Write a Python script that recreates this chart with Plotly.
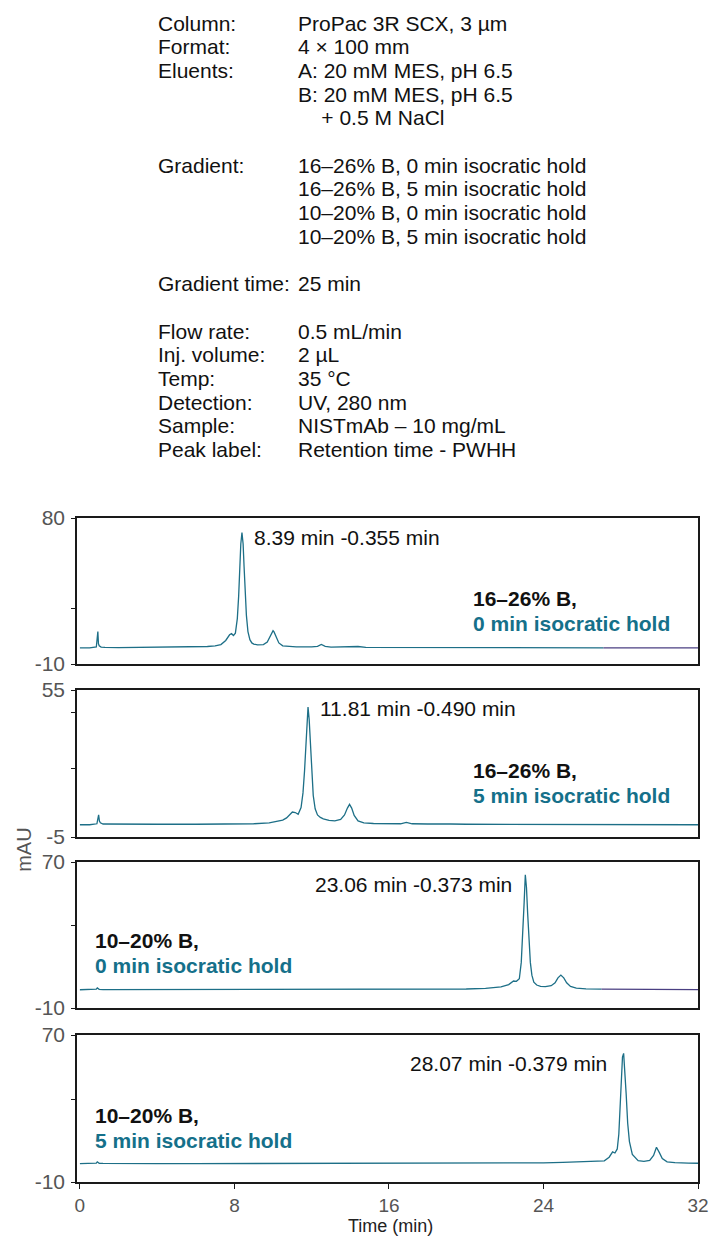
import plotly.graph_objects as go

# ---------------- data ----------------
# Panel 1: 16-26% B, 0 min isocratic hold
t1 = [0.0, 0.5, 0.85, 0.9, 0.93, 0.96, 1.0, 1.1, 1.3, 2.0, 3.0, 4.0, 5.0, 6.0, 6.6, 7.0, 7.3,
      7.55, 7.75, 7.85, 7.95, 8.05, 8.15, 8.22, 8.28, 8.33, 8.39, 8.45, 8.5, 8.56, 8.62, 8.7,
      8.8, 8.9, 9.0, 9.2, 9.5, 9.7, 9.85, 9.95, 10.0, 10.05, 10.15, 10.3, 10.5, 10.8, 11.2,
      12.0, 12.3, 12.5, 12.7, 13.0, 14.0, 14.4, 14.8, 16.0, 18.0, 20.0, 22.0, 24.0, 27.1]
v1 = [0.0, 0.0, 0.5, 6.0, 10.0, 2.5, 1.2, 0.4, 0.2, 0.1, 0.2, 0.1, 0.3, 0.5, 0.8, 1.2, 2.0,
      4.5, 8.0, 8.7, 7.6, 9.0, 18.0, 32.0, 50.0, 64.0, 71.0, 64.0, 50.0, 33.0, 20.0, 10.0,
      5.0, 3.0, 2.3, 1.8, 2.0, 3.5, 7.5, 10.2, 10.5, 9.8, 7.0, 3.0, 1.2, 0.7, 0.5,
      0.5, 0.9, 2.0, 0.9, 0.4, 0.4, 0.8, 0.3, 0.3, 0.3, 0.2, 0.1, 0.0, 0.0]
t1_end = [27.1, 29.0, 32.0]
v1_end = [0.0, -0.1, -0.1]

# Panel 2: 16-26% B, 5 min isocratic hold
t2 = [0.0, 0.5, 0.88, 0.93, 0.97, 1.01, 1.06, 1.2, 2.0, 4.0, 6.0, 8.0, 9.0, 9.8, 10.2, 10.5,
      10.7, 10.85, 11.0, 11.15, 11.3, 11.45, 11.55, 11.63, 11.7, 11.75, 11.81, 11.87, 11.93,
      12.0, 12.08, 12.18, 12.3, 12.45, 12.6, 12.9, 13.2, 13.5, 13.7, 13.85, 13.96, 14.07,
      14.2, 14.4, 14.7, 15.2, 16.0, 16.6, 16.9, 17.2, 18.0, 18.8, 19.0, 19.2, 20.0, 24.0, 28.0, 32.0]
v2 = [0.0, 0.0, 0.4, 2.5, 4.0, 1.5, 0.8, 0.3, 0.2, 0.2, 0.2, 0.3, 0.4, 0.8, 1.3, 1.9,
      2.8, 4.0, 5.2, 5.0, 4.3, 7.0, 13.0, 22.0, 33.0, 42.0, 48.0, 43.0, 33.0,
      21.0, 12.0, 6.5, 4.0, 3.0, 2.4, 1.8, 1.6, 2.2, 4.0, 6.8, 8.3, 6.8,
      3.8, 1.6, 0.8, 0.5, 0.4, 0.4, 1.0, 0.4, 0.3, 0.3, 0.6, 0.3, 0.2, 0.1, 0.0, 0.0]

# Panel 3: 10-20% B, 0 min isocratic hold
t3 = [0.0, 0.5, 0.85, 0.9, 0.95, 1.0, 1.2, 2.0, 4.0, 6.0, 8.0, 10.0, 12.0, 14.0, 16.0, 18.0,
      20.0, 21.0, 21.8, 22.2, 22.45, 22.6, 22.75, 22.85, 22.93, 23.0, 23.06, 23.12, 23.18,
      23.25, 23.32, 23.4, 23.5, 23.65, 23.85, 24.1, 24.4, 24.6, 24.75, 24.9, 25.05, 25.2,
      25.4, 25.7, 26.2, 27.0]
v3 = [0.0, 0.0, 0.3, 1.0, 0.3, 0.2, 0.1, 0.1, 0.0, 0.0, 0.1, 0.1, 0.1, 0.1, 0.2, 0.2,
      0.4, 0.8, 1.6, 2.8, 4.8, 4.6, 6.0, 15.0, 30.0, 48.0, 63.0, 56.0, 42.0,
      27.0, 15.0, 8.0, 4.2, 2.6, 1.9, 1.7, 2.2, 3.8, 6.5, 8.0, 6.5, 3.8,
      1.8, 0.9, 0.5, 0.3]
t3_end = [27.0, 29.0, 32.0]
v3_end = [0.3, 0.2, 0.1]

# Panel 4: 10-20% B, 5 min isocratic hold
t4 = [0.0, 0.5, 0.85, 0.9, 0.95, 1.0, 1.2, 2.0, 4.0, 6.0, 8.0, 10.0, 12.0, 14.0, 16.0, 18.0,
      20.0, 22.0, 24.0, 25.0, 25.7, 26.5, 27.15, 27.4, 27.58, 27.7, 27.82, 27.9, 27.97,
      28.03, 28.09, 28.15, 28.21, 28.28, 28.36, 28.45, 28.6, 28.9, 29.2, 29.5, 29.7, 29.85,
      30.0, 30.15, 30.4, 30.8, 31.5, 32.0]
v4 = [0.0, 0.0, 0.3, 1.0, 0.3, 0.2, 0.1, 0.0, 0.0, 0.0, 0.0, 0.0, 0.0, 0.0, 0.0, 0.0,
      0.1, 0.2, 0.4, 0.7, 1.0, 1.2, 1.5, 3.5, 6.4, 5.8, 8.0, 16.0, 30.0,
      46.0, 58.0, 60.0, 52.0, 38.0, 22.0, 12.0, 5.0, 1.6, 1.2, 1.8, 4.5, 8.9,
      6.0, 2.8, 1.0, 0.5, 0.3, 0.2]

peak_labels = ["8.39 min -0.355 min", "11.81 min -0.490 min",
               "23.06 min -0.373 min", "28.07 min -0.379 min"]
cond_line1 = ["16\u201326% B,", "16\u201326% B,", "10\u201320% B,", "10\u201320% B,"]
cond_line2 = ["0 min isocratic hold", "5 min isocratic hold",
              "0 min isocratic hold", "5 min isocratic hold"]
y_ranges = [(-10, 80), (-5, 55), (-10, 70), (-10, 70)]
y_minor = [[24], [23, 46], [35], [35]]
x_ticks = [0, 8, 16, 24, 32]

info_labels = ["Column:", "Format:", "Eluents:", "Gradient:", "Gradient time:",
               "Flow rate:", "Inj. volume:", "Temp:", "Detection:", "Sample:", "Peak label:"]
info_label_slots = [0, 1, 2, 6, 11, 13, 14, 15, 16, 17, 18]
info_values = ["ProPac 3R SCX, 3 \u00b5m", "4 \u00d7 100 mm", "A: 20 mM MES, pH 6.5",
               "B: 20 mM MES, pH 6.5", "\u00a0\u00a0\u00a0\u00a0+ 0.5 M NaCl",
               "16\u201326% B, 0 min isocratic hold", "16\u201326% B, 5 min isocratic hold",
               "10\u201320% B, 0 min isocratic hold", "10\u201320% B, 5 min isocratic hold",
               "25 min", "0.5 mL/min", "2 \u00b5L", "35 \u00b0C", "UV, 280 nm",
               "NISTmAb \u2013 10 mg/mL", "Retention time - PWHH"]
info_value_slots = [0, 1, 2, 3, 4, 6, 7, 8, 9, 11, 13, 14, 15, 16, 17, 18]

# ---------------- layout constants ----------------
W, H = 721, 1238
ML, MR, MT, MB = 77, 13, 518, 56
PH = H - MT - MB
PW = W - ML - MR
panels_px = [(518, 664), (690, 837), (862, 1008), (1035, 1182)]
FONT = "Liberation Sans, Arial, Helvetica, sans-serif"
TEAL = "#1d6f87"
TEAL_TXT = "#15708a"
PURPLE = "#4a3f82"
GRAY = "#555555"
LINE_Y0, LINE_DY = 23, 23.7


def py2paper(py):
    return (H - MB - py) / PH


def px2paper(px):
    return (px - ML) / PW


fig = go.Figure()
series = [(t1, v1), (t2, v2), (t3, v3), (t4, v4)]
ends = {0: (t1_end, v1_end), 2: (t3_end, v3_end)}
for i, (t, v) in enumerate(series):
    xa = "x" if i == 0 else f"x{i+1}"
    ya = "y" if i == 0 else f"y{i+1}"
    fig.add_trace(go.Scatter(x=t, y=v, mode="lines", line=dict(color=TEAL, width=1.3),
                             xaxis=xa, yaxis=ya, showlegend=False, hoverinfo="skip"))
    if i in ends:
        te, ve = ends[i]
        fig.add_trace(go.Scatter(x=te, y=ve, mode="lines", line=dict(color=PURPLE, width=1.3),
                                 xaxis=xa, yaxis=ya, showlegend=False, hoverinfo="skip"))

layout = dict(width=W, height=H, margin=dict(l=ML, r=MR, t=MT, b=MB, pad=0),
              paper_bgcolor="white", plot_bgcolor="white",
              font=dict(family=FONT, size=21, color="#111111"), showlegend=False)

for i in range(4):
    top, bot = panels_px[i]
    sfx = "" if i == 0 else str(i + 1)
    lo, hi = y_ranges[i]
    tv = [lo] + y_minor[i] + [hi]
    tt = [str(lo)] + [""] * len(y_minor[i]) + [str(hi)]
    layout["yaxis" + sfx] = dict(domain=[py2paper(bot), py2paper(top)], range=[lo, hi],
                                 anchor="x" + sfx, showline=True, mirror=True,
                                 linecolor="#1a1a1a", linewidth=1.5, showgrid=False,
                                 zeroline=False, tickmode="array", tickvals=tv, ticktext=tt,
                                 ticks="outside", ticklen=4, tickcolor="#1a1a1a",
                                 tickfont=dict(size=21, color=GRAY, family=FONT),
                                 ticklabelstandoff=2)
    xa = dict(domain=[0, 1], range=[-0.15, 32.0], anchor="y" + sfx, showline=True,
              mirror=True, linecolor="#1a1a1a", linewidth=1.5, showgrid=False,
              zeroline=False)
    if i == 3:
        xa.update(tickmode="array", tickvals=x_ticks, ticks="outside", ticklen=5,
                  tickcolor="#1a1a1a", tickfont=dict(size=19, color=GRAY, family=FONT),
                  ticklabelstandoff=0)
    else:
        xa.update(showticklabels=False, ticks="")
    if i > 0:
        xa["matches"] = "x"
    layout["xaxis" + sfx] = xa

fig.update_layout(**layout)

ann = []
txt_font = dict(size=21, color="#111111", family=FONT)
# info block
for lab, slot in zip(info_labels, info_label_slots):
    ann.append(dict(text=lab, x=px2paper(157), y=py2paper(LINE_Y0 + slot * LINE_DY),
                    xref="paper", yref="paper", xanchor="left", yanchor="middle",
                    showarrow=False, font=txt_font))
for val, slot in zip(info_values, info_value_slots):
    ann.append(dict(text=val, x=px2paper(300), y=py2paper(LINE_Y0 + slot * LINE_DY),
                    xref="paper", yref="paper", xanchor="left", yanchor="middle",
                    showarrow=False, font=txt_font))

# peak labels
peak_pos = [(255, 537, "left"), (322, 708, "left"), (521, 884, "right"), (618, 1063, "right")]
for (px, py, anc), txt in zip(peak_pos, peak_labels):
    ann.append(dict(text=txt, x=px2paper(px), y=py2paper(py), xref="paper", yref="paper",
                    xanchor=anc, yanchor="middle", showarrow=False, font=txt_font))

# condition labels
cond_pos = [(477, 598), (477, 770), (93, 940), (93, 1115)]
for (px, py), l1, l2 in zip(cond_pos, cond_line1, cond_line2):
    ann.append(dict(text="<b>" + l1 + "</b>", x=px2paper(px), y=py2paper(py), xref="paper",
                    yref="paper", xanchor="left", yanchor="middle", showarrow=False,
                    font=dict(size=21, color="#111111", family=FONT)))
    ann.append(dict(text="<b>" + l2 + "</b>", x=px2paper(px), y=py2paper(py + 25),
                    xref="paper", yref="paper", xanchor="left", yanchor="middle",
                    showarrow=False, font=dict(size=21, color=TEAL_TXT, family=FONT)))

# axis titles
ann.append(dict(text="Time (min)", x=px2paper(396), y=py2paper(1226), xref="paper",
                yref="paper", xanchor="center", yanchor="middle", showarrow=False,
                borderpad=0, font=dict(size=18, color="#222222", family=FONT)))
ann.append(dict(text="mAU", x=px2paper(23), y=py2paper(850), xref="paper", yref="paper",
                xanchor="center", yanchor="middle", showarrow=False, textangle=-90,
                font=dict(size=20, color=GRAY, family=FONT)))

fig.update_layout(annotations=ann)
fig.write_html("out.html")
